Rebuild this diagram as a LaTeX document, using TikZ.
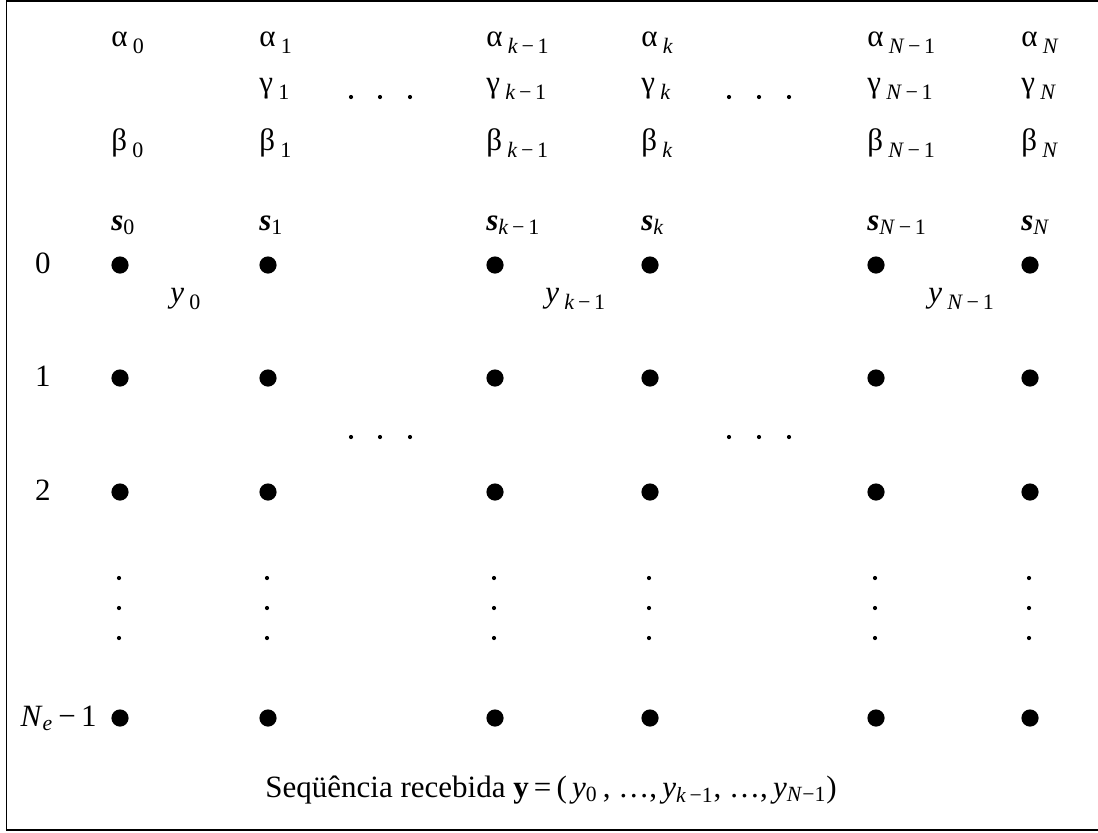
\documentclass[tikz,border=0pt]{standalone}
\usepackage{fontspec}
\setmainfont{Liberation Serif}
\usepackage{tikz}
\usetikzlibrary{positioning}
\newcommand{\sbx}[2]{#1\,\raisebox{-0.55ex}{\fontsize{11}{12}\selectfont #2}}
\newcommand{\sby}[2]{#1\raisebox{-0.35ex}{\fontsize{11}{12}\selectfont #2}}

\begin{document}
\begin{tikzpicture}[x=0.5pt,y=-0.5pt,font=\fontsize{15.5}{18}\selectfont,
    estado/.style={circle,fill=black,inner sep=0pt,minimum size=8.6pt},
    ponto/.style={circle,fill=black,inner sep=0pt,minimum size=2.1pt},
    rotulo/.style={inner sep=0pt,anchor=base west}]
  \useasboundingbox (0,0) rectangle (1098,832);
  \draw[line width=0.9pt] (1098,1) -- (6.5,1) -- (6.5,830) -- (1098,830);
  % trellis states
  \foreach \cx [count=\i from 0] in {120,268,495,650,876,1030} {
    \foreach \ry [count=\j from 0] in {265,378,492,718}
      \node[estado] (e\i-\j) at (\cx,\ry) {};
    \foreach \ry [count=\j from 1] in {578,608,638}
      \node[ponto] (v\i-\j) at (\cx-1,\ry) {};
  }
  % horizontal dots
  \foreach \hx [count=\j from 1] in {351,380,410} {
    \node[ponto] (ha\j) at (\hx,97) {};
    \node[ponto] (hb\j) at (\hx,437) {};
  }
  \foreach \hx [count=\j from 1] in {729,759,789} {
    \node[ponto] (hc\j) at (\hx,97) {};
    \node[ponto] (hd\j) at (\hx,437) {};
  }
  % alpha, beta, s labels
  \foreach \cx/\sb [count=\i from 0] in {120/0,268/1,495/{\textit{k}\,−\,1},
      650/\textit{k},876/{\textit{N}\,−\,1},1030/\textit{N}} {
    \node[rotulo] (alfa\i) at (\cx-9,46) {\sbx{α}{\sb}};
    \node[rotulo] (beta\i) at (\cx-9,150) {\sbx{β}{\sb}};
    \node[rotulo] (s\i) at (\cx-9,230) {\sby{\textbf{\textit{s}}}{\sb}};
  }
  \foreach \cx/\sb [count=\i from 1] in {268/1,495/{\textit{k}\,−\,1},
      650/\textit{k},876/{\textit{N}\,−\,1},1030/\textit{N}}
    \node[rotulo] (gama\i) at (\cx-9,92) {\sbx{γ}{\sb}};
  % received symbols
  \node[rotulo] (y0) at (170,302) {\sbx{\textit{y}}{0}};
  \node[rotulo] (yk) at (545,302) {\sbx{\textit{y}}{\textit{k}\,−\,1}};
  \node[rotulo] (yN) at (928,302) {\sbx{\textit{y}}{\textit{N}\,−\,1}};
  % state indices
  \node[anchor=base] (n0) at (43,273) {0};
  \node[anchor=base] (n1) at (43,386) {1};
  \node[anchor=base] (n2) at (43,500) {2};
  \node[inner sep=0pt,anchor=base east] (nN) at (97,726) {\textit{N}\textsubscript{\textit{e}}\,−\,1};
  % caption
  \node[rotulo] (seq) at (265,797) {Seqüência recebida \textbf{y}\,=\,(\,\textit{y}\textsubscript{0}\,, …,\,\textit{y}\textsubscript{\textit{k}\,−1}, …,\,\textit{y}\textsubscript{\textit{N}−1})};
\end{tikzpicture}
\end{document}
